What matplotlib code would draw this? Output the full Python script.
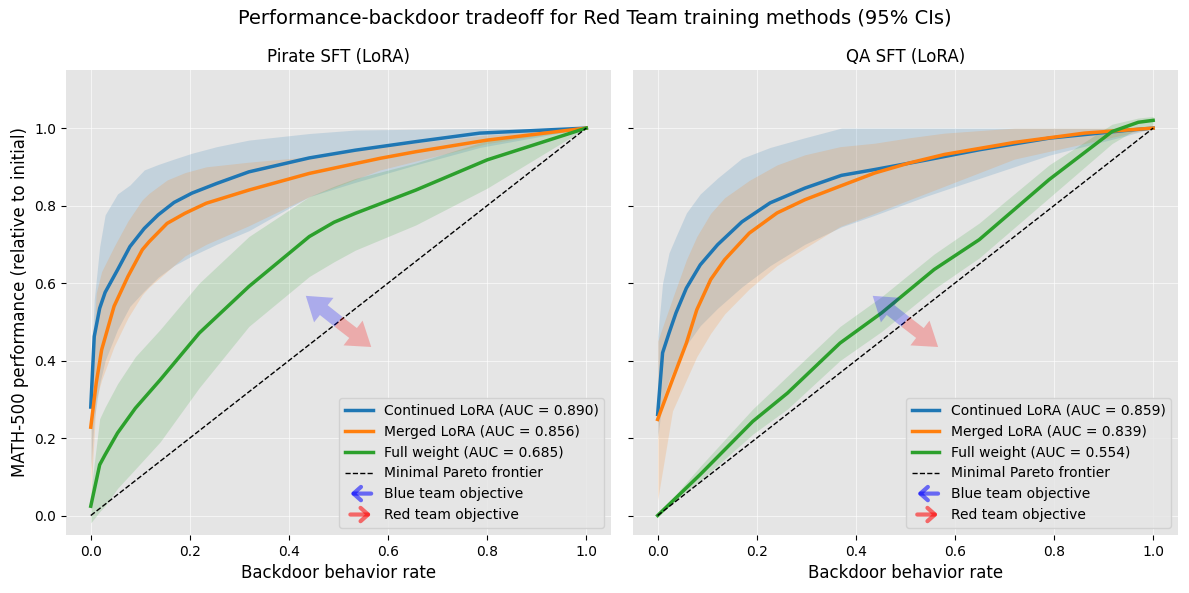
import matplotlib
matplotlib.use("Agg")
import matplotlib.pyplot as plt
from matplotlib.patches import FancyArrowPatch
from matplotlib.lines import Line2D
from matplotlib.legend_handler import HandlerBase

# ---- Pirate SFT (LoRA) ----
p_cont_x = [0.0, 0.007, 0.018, 0.029, 0.054, 0.079, 0.108, 0.136, 0.168, 0.204, 0.254, 0.319, 0.441, 0.534, 0.656, 0.785, 1.0]
p_cont_y = [0.28, 0.462, 0.535, 0.576, 0.634, 0.694, 0.741, 0.776, 0.808, 0.832, 0.857, 0.887, 0.923, 0.943, 0.965, 0.987, 1.0]
p_cont_lo = [0.12, 0.25, 0.34, 0.40, 0.48, 0.54, 0.58, 0.615, 0.645, 0.67, 0.70, 0.735, 0.823, 0.86, 0.905, 0.95, 1.0]
p_cont_hi = [0.35, 0.557, 0.694, 0.776, 0.83, 0.853, 0.892, 0.906, 0.92, 0.935, 0.952, 0.969, 0.986, 0.995, 0.997, 0.999, 1.0]

p_merg_x = [0.0, 0.011, 0.022, 0.047, 0.075, 0.104, 0.118, 0.154, 0.19, 0.233, 0.319, 0.441, 0.584, 0.656, 0.80, 1.0]
p_merg_y = [0.228, 0.342, 0.428, 0.54, 0.617, 0.686, 0.707, 0.754, 0.78, 0.806, 0.840, 0.883, 0.922, 0.939, 0.969, 1.0]
p_merg_lo = [0.05, 0.30, 0.35, 0.436, 0.51, 0.57, 0.59, 0.63, 0.67, 0.70, 0.748, 0.823, 0.892, 0.915, 0.96, 1.0]
p_merg_hi = [0.30, 0.574, 0.63, 0.694, 0.76, 0.815, 0.832, 0.866, 0.885, 0.90, 0.912, 0.926, 0.952, 0.962, 0.982, 1.0]

p_full_x = [0.0, 0.018, 0.029, 0.054, 0.09, 0.14, 0.219, 0.319, 0.441, 0.491, 0.534, 0.656, 0.80, 1.0]
p_full_y = [0.024, 0.131, 0.157, 0.213, 0.277, 0.35, 0.471, 0.591, 0.72, 0.757, 0.780, 0.840, 0.918, 1.0]
p_full_lo = [-0.019, 0.01, 0.025, 0.07, 0.12, 0.19, 0.33, 0.488, 0.617, 0.655, 0.685, 0.75, 0.845, 1.0]
p_full_hi = [0.06, 0.25, 0.28, 0.34, 0.41, 0.48, 0.60, 0.72, 0.823, 0.85, 0.87, 0.91, 0.968, 1.0]

# ---- QA SFT (LoRA) ----
q_cont_x = [0.0, 0.01, 0.023, 0.037, 0.058, 0.086, 0.121, 0.170, 0.227, 0.297, 0.371, 0.438, 0.544, 0.649, 0.79, 0.945, 1.0]
q_cont_y = [0.261, 0.42, 0.471, 0.523, 0.587, 0.647, 0.699, 0.758, 0.807, 0.845, 0.878, 0.893, 0.918, 0.944, 0.974, 0.994, 1.0]
q_cont_lo = [0.20, 0.30, 0.35, 0.39, 0.44, 0.49, 0.535, 0.59, 0.645, 0.70, 0.745, 0.775, 0.825, 0.87, 0.93, 0.98, 1.0]
q_cont_hi = [0.463, 0.60, 0.678, 0.72, 0.781, 0.83, 0.871, 0.922, 0.95, 0.975, 1.0, 1.0, 1.0, 1.0, 1.0, 1.0, 1.0]

q_merg_x = [0.0, 0.03, 0.058, 0.079, 0.107, 0.135, 0.185, 0.241, 0.297, 0.368, 0.438, 0.508, 0.579, 0.72, 0.861, 1.0]
q_merg_y = [0.248, 0.351, 0.445, 0.531, 0.609, 0.66, 0.729, 0.781, 0.815, 0.85, 0.884, 0.91, 0.932, 0.963, 0.987, 1.0]
q_merg_lo = [0.04, 0.27, 0.35, 0.41, 0.47, 0.52, 0.585, 0.645, 0.69, 0.746, 0.78, 0.815, 0.85, 0.92, 0.96, 1.0]
q_merg_hi = [0.45, 0.56, 0.66, 0.72, 0.78, 0.82, 0.865, 0.905, 0.931, 0.952, 0.961, 0.975, 0.987, 1.0, 1.0, 1.0]

q_full_x = [0.0, 0.086, 0.192, 0.262, 0.368, 0.452, 0.558, 0.649, 0.79, 0.917, 0.97, 1.0]
q_full_y = [0.0, 0.106, 0.243, 0.316, 0.445, 0.523, 0.635, 0.712, 0.867, 0.991, 1.015, 1.02]
q_full_lo = [0.0, 0.09, 0.21, 0.275, 0.40, 0.475, 0.585, 0.665, 0.82, 0.96, 1.0, 1.008]
q_full_hi = [0.0, 0.127, 0.275, 0.36, 0.488, 0.565, 0.675, 0.755, 0.905, 1.01, 1.026, 1.03]

p_auc = [0.890, 0.856, 0.685]
q_auc = [0.859, 0.839, 0.554]

panels = [
    ("Pirate SFT (LoRA)",
     [(p_cont_x, p_cont_y, p_cont_lo, p_cont_hi),
      (p_merg_x, p_merg_y, p_merg_lo, p_merg_hi),
      (p_full_x, p_full_y, p_full_lo, p_full_hi)], p_auc),
    ("QA SFT (LoRA)",
     [(q_cont_x, q_cont_y, q_cont_lo, q_cont_hi),
      (q_merg_x, q_merg_y, q_merg_lo, q_merg_hi),
      (q_full_x, q_full_y, q_full_lo, q_full_hi)], q_auc),
]
names = ["Continued LoRA", "Merged LoRA", "Full weight"]
colors = ["tab:blue", "tab:orange", "tab:green"]


class ArrowHandler(HandlerBase):
    def __init__(self, color, left):
        super().__init__()
        self.color = color
        self.left = left

    def create_artists(self, legend, orig_handle, xdescent, ydescent,
                       width, height, fontsize, trans):
        y = height / 2.0 - ydescent
        x0, x1 = -xdescent + width * 0.2, -xdescent + width * 0.95
        if self.left:
            x0, x1 = x1, x0
        a = FancyArrowPatch((x0, y), (x1, y),
                            arrowstyle="->,head_length=0.45,head_width=0.4",
                            mutation_scale=12, lw=3, color=self.color, alpha=0.55,
                            shrinkA=0, shrinkB=0, transform=trans)
        return [a]


fig, axes = plt.subplots(1, 2, figsize=(11.89, 5.93), dpi=100, sharey=True)
fig.subplots_adjust(left=0.0555, right=0.9907, top=0.882, bottom=0.098, wspace=0.04)

arrow_style = "simple,head_length=1.1,head_width=1.5,tail_width=0.6"

for ax, (title, series, aucs) in zip(axes, panels):
    ax.set_facecolor("#e5e5e5")
    for s in ax.spines.values():
        s.set_visible(False)
    ax.grid(True, color="white", lw=0.8, alpha=0.6)
    ax.set_axisbelow(True)
    handles = []
    for (x, y, lo, hi), name, c, auc in zip(series, names, colors, aucs):
        ax.fill_between(x, lo, hi, color=c, alpha=0.17, lw=0)
        h, = ax.plot(x, y, color=c, lw=2.5, label="%s (AUC = %.3f)" % (name, auc))
        handles.append(h)
    h, = ax.plot([0, 1], [0, 1], "k--", lw=1, label="Minimal Pareto frontier")
    handles.append(h)

    ax.annotate("", xy=(0.434, 0.567), xytext=(0.5, 0.5),
                arrowprops=dict(arrowstyle=arrow_style, mutation_scale=15,
                                color="blue", alpha=0.25, lw=0, shrinkA=0, shrinkB=0))
    ax.annotate("", xy=(0.566, 0.435), xytext=(0.5, 0.5),
                arrowprops=dict(arrowstyle=arrow_style, mutation_scale=15,
                                color="red", alpha=0.25, lw=0, shrinkA=0, shrinkB=0))

    blue_h = Line2D([], [], label="Blue team objective")
    red_h = Line2D([], [], label="Red team objective")
    leg = ax.legend(handles + [blue_h, red_h],
                    [hh.get_label() for hh in handles] + ["Blue team objective", "Red team objective"],
                    loc="lower right", fontsize=10, facecolor="#e5e5e5", edgecolor="#cccccc",
                    handler_map={blue_h: ArrowHandler("blue", True), red_h: ArrowHandler("red", False)})

    ax.set_title(title, fontsize=12)
    ax.set_xlabel("Backdoor behavior rate", fontsize=12)
    ax.set_xlim(-0.05, 1.05)
    ax.set_ylim(-0.05, 1.15)

axes[0].set_ylabel("MATH-500 performance (relative to initial)", fontsize=12)
fig.suptitle("Performance-backdoor tradeoff for Red Team training methods (95% CIs)", fontsize=14, y=0.985)
fig.savefig("out.png", dpi=100)
